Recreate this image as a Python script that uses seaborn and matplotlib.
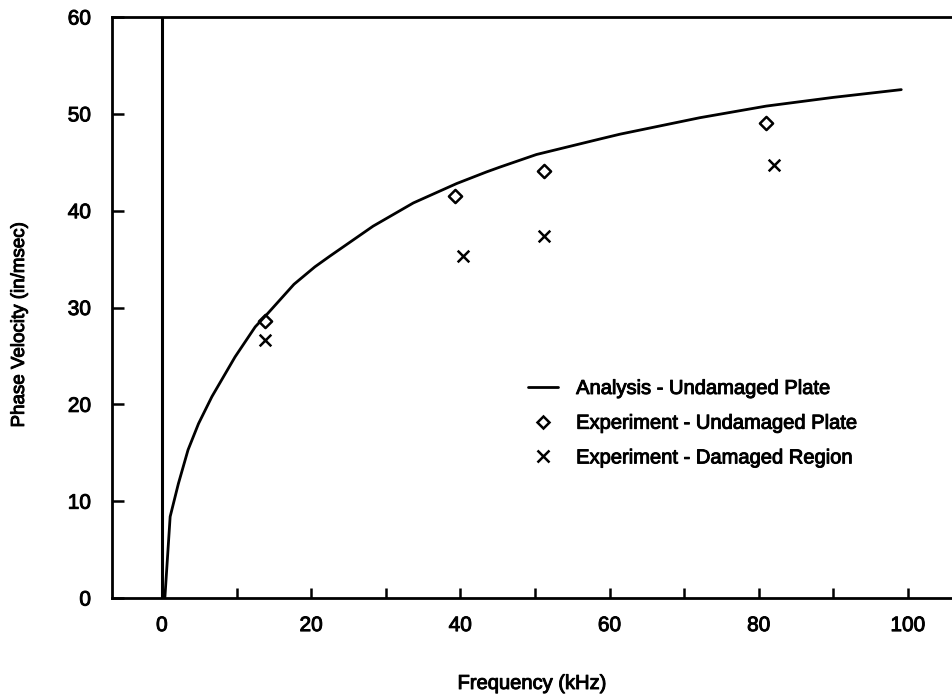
import matplotlib
matplotlib.use("Agg")
import matplotlib.pyplot as plt
import matplotlib.patheffects as pe
import seaborn as sns
import numpy as np
from matplotlib.lines import Line2D

# Analysis curve
freq_analysis = [0.4, 1.1, 2.2, 3.5, 4.9, 6.7, 9.8, 12.5, 14.2, 17.7, 20.5,
                 22.5, 28.3, 33.7, 39.5, 43.5, 45.3, 50.2, 58.7, 61.4, 72.1,
                 81.0, 90.0, 99.1]
vel_analysis = [0.1, 8.4, 11.8, 15.3, 18.0, 20.8, 24.9, 28.0, 29.4, 32.4, 34.2,
                35.3, 38.4, 40.8, 42.8, 44.0, 44.5, 45.8, 47.4, 47.9, 49.6,
                50.8, 51.7, 52.5]

# Experiments
freq_undamaged = [13.8, 39.3, 51.2, 81.0]
vel_undamaged = [28.65, 41.5, 44.1, 49.1]
freq_damaged = [13.8, 40.3, 51.2, 82.0]
vel_damaged = [26.6, 35.3, 37.4, 44.7]

# Vertical reference line at x = 0
vline_x = 0
vline_ymin, vline_ymax = 0, 60

x_ticks = [0, 10, 20, 30, 40, 50, 60, 70, 80, 90, 100]
x_tick_labels = ["0", "", "20", "", "40", "", "60", "", "80", "", "100"]
y_ticks = [0, 10, 20, 30, 40, 50, 60]

legend_labels = ["Analysis - Undamaged Plate",
                 "Experiment - Undamaged Plate",
                 "Experiment - Damaged Region"]

sns.set_theme(style="white")
plt.rcParams["font.family"] = ["Liberation Sans", "DejaVu Sans"]

fig = plt.figure(figsize=(9.52, 6.94), dpi=100)
ax = fig.add_axes([0.1176, 0.1383, 0.8824, 0.8372])

sns.lineplot(x=freq_analysis, y=vel_analysis, ax=ax, color="black", lw=2.0,
             estimator=None, sort=False)
ax.vlines(vline_x, vline_ymin, vline_ymax, color="black", lw=2.2)
sns.scatterplot(x=freq_undamaged, y=vel_undamaged, ax=ax, marker="D", s=45,
                facecolor="white", edgecolor="black", linewidth=1.8)
sns.scatterplot(x=freq_damaged, y=vel_damaged, ax=ax, marker="x", s=70,
                color="black", linewidth=1.8)

ax.set_xlim(-6.7, 105.9)
ax.set_ylim(0, 60)
ax.set_xticks(x_ticks)
ax.set_xticklabels(x_tick_labels)
ax.set_yticks(y_ticks)

for side in ["left", "bottom", "top"]:
    ax.spines[side].set_visible(True)
    ax.spines[side].set_color("black")
    ax.spines[side].set_linewidth(2.0)
ax.spines["right"].set_visible(False)

ax.tick_params(axis="x", direction="in", length=7, width=1.8, pad=13,
               labelsize=15, colors="black", bottom=True, top=False)
ax.tick_params(axis="y", direction="in", length=8.5, width=1.8, pad=15,
               labelsize=15, colors="black", left=True, right=False)

ax.set_xlabel("Frequency (kHz)", fontsize=14.5, labelpad=28, color="black")
ax.set_ylabel("Phase Velocity (in/msec)", fontsize=13.5, color="black")
ax.yaxis.set_label_coords(-0.100, 0.47)

handles = [
    Line2D([0], [0], color="black", lw=2.0),
    Line2D([0], [0], color="black", marker="D", ls="none", ms=6.5,
           mfc="white", mew=1.8),
    Line2D([0], [0], color="black", marker="x", ls="none", ms=8.5, mew=1.8),
]
leg = ax.legend(handles, legend_labels, loc="upper left",
                bbox_to_anchor=(0.495, 0.377), frameon=False, fontsize=14.5,
                handlelength=1.5, handletextpad=0.9, labelspacing=0.78,
                borderaxespad=0, borderpad=0)

stroke = [pe.withStroke(linewidth=0.7, foreground="black")]
texts = list(leg.get_texts()) + [ax.xaxis.label, ax.yaxis.label] + \
    ax.get_xticklabels() + ax.get_yticklabels()
for t in texts:
    t.set_color("black")
    t.set_path_effects(stroke)

fig.savefig("out.png", dpi=100)
